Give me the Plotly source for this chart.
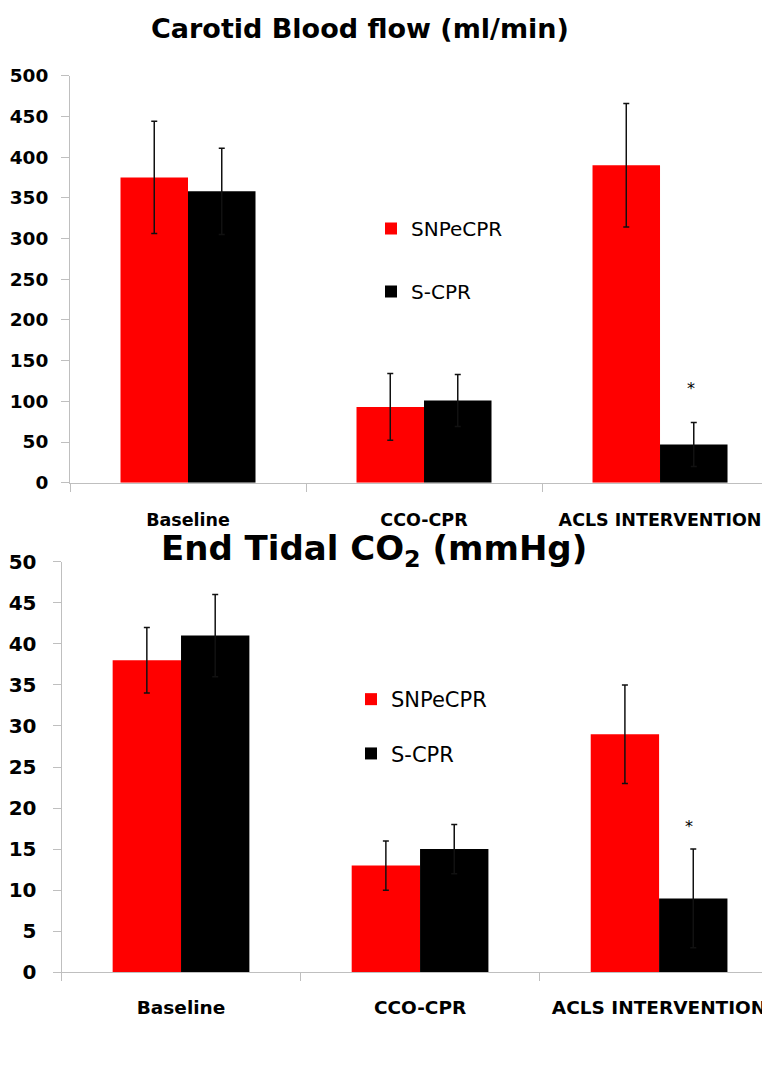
import plotly.graph_objects as go

categories = ["Baseline", "CCO-CPR", "ACLS INTERVENTION"]
series_names = ["SNPeCPR", "S-CPR"]
colors = ["#ff0000", "#000000"]

# Carotid blood flow (ml/min)
cbf_snp = [375, 93, 390]
cbf_snp_err = [69, 41, 76]
cbf_s = [358, 101, 47]
cbf_s_err = [53, 32, 27]

# End tidal CO2 (mmHg)
etco2_snp = [38, 13, 29]
etco2_snp_err = [4, 3, 6]
etco2_s = [41, 15, 9]
etco2_s_err = [5, 3, 6]

top_ticks = [0, 50, 100, 150, 200, 250, 300, 350, 400, 450, 500]
bot_ticks = [0, 5, 10, 15, 20, 25, 30, 35, 40, 45, 50]
star_y = [116, 17.7]

FONT = "DejaVu Sans"
W = 762.0
H = 1077.0

fig = go.Figure()

def add_bars(vals, errs, idx, xa, ya, legend, group):
    fig.add_trace(go.Bar(
        x=categories, y=vals, name=series_names[idx],
        marker=dict(color=colors[idx], line=dict(width=0)),
        error_y=dict(type="data", array=errs, visible=True, color="#111111",
                     thickness=1.5, width=3),
        xaxis=xa, yaxis=ya, legend=legend, legendgroup=group, showlegend=True,
    ))

add_bars(cbf_snp, cbf_snp_err, 0, "x", "y", "legend", "a")
add_bars(cbf_s, cbf_s_err, 1, "x", "y", "legend", "b")
add_bars(etco2_snp, etco2_snp_err, 0, "x2", "y2", "legend2", "c")
add_bars(etco2_s, etco2_s_err, 1, "x2", "y2", "legend2", "d")

axis_gray = "#bfbfbf"

def xaxis_common(dom, rng, size, standoff, anchor):
    return dict(domain=dom, range=rng, type="category", tickson="boundaries",
                ticks="outside", ticklen=8, tickcolor=axis_gray, anchor=anchor,
                showline=True, linecolor=axis_gray, linewidth=1,
                showgrid=False, zeroline=False, automargin=False,
                tickfont=dict(family=FONT, size=size, color="#000000", weight="bold"),
                ticklabelstandoff=standoff)

def yaxis_common(dom, rng, tickvals, size, standoff, anchor):
    return dict(domain=dom, range=rng, tickvals=tickvals, ticks="outside", ticklen=8,
                tickcolor=axis_gray, showline=True, linecolor=axis_gray, linewidth=1,
                showgrid=False, zeroline=False, anchor=anchor, automargin=False,
                tickfont=dict(family=FONT, size=size, color="#000000", weight="bold"),
                ticklabelstandoff=standoff)

fig.update_layout(
    template="none",
    width=int(W), height=int(H),
    margin=dict(l=0, r=0, t=0, b=0, pad=0),
    paper_bgcolor="white", plot_bgcolor="white",
    barmode="group", bargap=0.428, bargroupgap=0,
    xaxis=xaxis_common([62 / W, 1], [-0.5, 2.466], 17.5, 21, "y"),
    yaxis=yaxis_common([1 - 474.7 / H, 1 - 67.7 / H], [0, 500], top_ticks, 18.5, 9, "x"),
    xaxis2=xaxis_common([53.5 / W, 1], [-0.5, 2.464], 18.5, 18, "y2"),
    yaxis2=yaxis_common([1 - 964.3 / H, 1 - 553.7 / H], [0, 50], bot_ticks, 20, 12, "x2"),
    legend=dict(x=363 / W, y=1 - 201 / H, xanchor="left", yanchor="top",
                font=dict(family=FONT, size=20, color="#000000"),
                tracegroupgap=34, bgcolor="rgba(0,0,0,0)"),
    legend2=dict(x=343 / W, y=1 - 671 / H, xanchor="left", yanchor="top",
                 font=dict(family=FONT, size=21, color="#000000"),
                 tracegroupgap=24, bgcolor="rgba(0,0,0,0)"),
    annotations=[
        dict(text="Carotid Blood flow (ml/min)", x=352 / W, y=1 - 20 / H,
             xref="paper", yref="paper", showarrow=False, xanchor="center", yanchor="middle",
             font=dict(family=FONT, size=27, color="#000000", weight="bold")),
        dict(text="End Tidal CO<sub>2</sub> (mmHg)", x=365.5 / W, y=1 - 542 / H,
             xref="paper", yref="paper", showarrow=False, xanchor="center", yanchor="middle",
             font=dict(family=FONT, size=34, color="#000000", weight="bold")),
        dict(text="*", x=categories[2], y=star_y[0], xref="x", yref="y", xshift=31,
             showarrow=False, font=dict(family=FONT, size=16, color="#000000")),
        dict(text="*", x=categories[2], y=star_y[1], xref="x2", yref="y2", xshift=30,
             showarrow=False, font=dict(family=FONT, size=16, color="#000000")),
    ],
)

fig.write_html("out.html")
